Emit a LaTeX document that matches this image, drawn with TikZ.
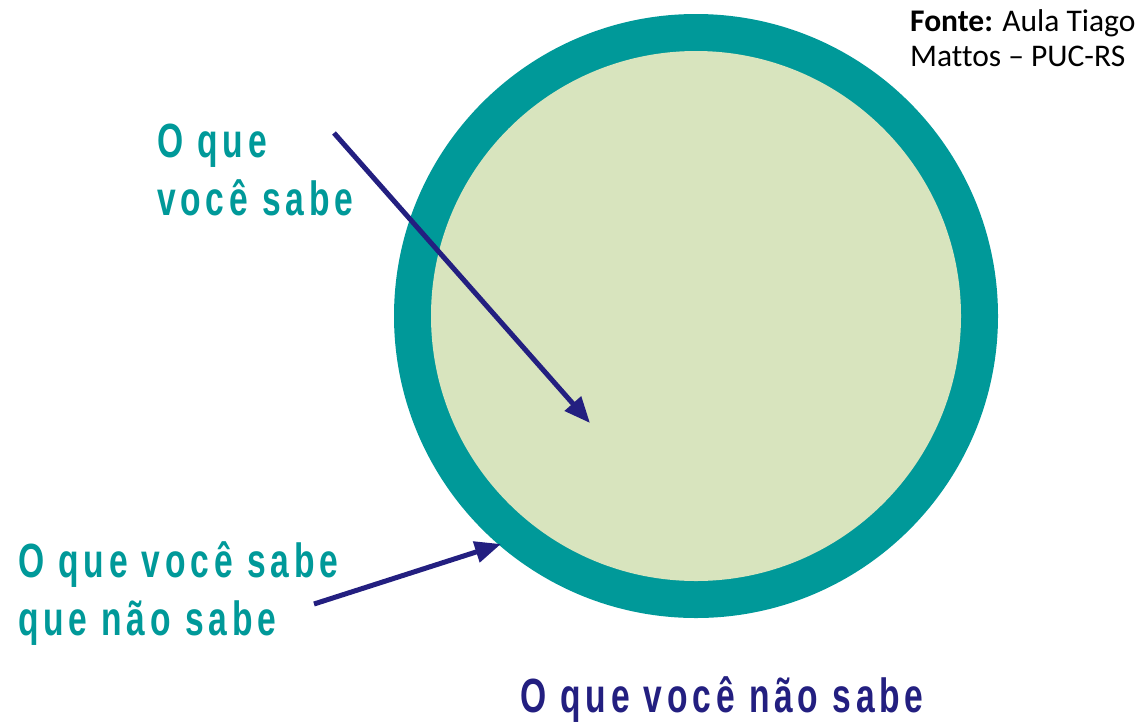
\documentclass[tikz,border=0pt]{standalone}
\usepackage{fontspec}
\setmainfont[Ligatures=NoCommon]{Carlito}
\newfontfamily\headfont[FakeStretch=0.7,LetterSpace=10,WordSpace=1.0]{Liberation Sans Bold}
\usetikzlibrary{arrows.meta}
\definecolor{ringteal}{RGB}{0,153,153}
\definecolor{innergreen}{RGB}{216,228,190}
\definecolor{navyarrow}{RGB}{35,31,128}
\tikzset{
  headlabel/.style={inner sep=0pt, anchor=base west, font=\headfont\fontsize{48}{58}\selectfont},
  tealtext/.style={headlabel, text=ringteal},
  navytext/.style={headlabel, text=navyarrow},
  pointer/.style={draw=navyarrow, line width=5pt, -{Triangle[length=26pt,width=21pt]}},
  sourcetext/.style={inner sep=0pt, anchor=base west, font=\fontsize{31.5}{36}\selectfont, text=black}
}
\begin{document}
\begin{tikzpicture}[x=1pt,y=-1pt]
\useasboundingbox (0,0) rectangle (1143,721);
\fill[ringteal] (696,316) circle[radius=302];
\fill[innergreen] (696,316) circle[radius=265];
\node[tealtext] (know1) at (157,157) {O que};
\node[tealtext] (know2) at (157,215) {você sabe};
\node[tealtext] (kdk1) at (18,577) {O que você sabe};
\node[tealtext] (kdk2) at (18,635) {que não sabe};
\node[navytext] (dk) at (520,712) {O que você não sabe};
\node[sourcetext] (src1) at (910,31) {\textbf{Fonte:} Aula Tiago};
\node[sourcetext] (src2) at (910,66) {Mattos – PUC-RS};
\coordinate (p1s) at (334,133);
\coordinate (p1e) at (590,423);
\coordinate (p2s) at (314,604);
\coordinate (p2e) at (501,544);
\draw[pointer] (p1s) -- (p1e);
\draw[pointer] (p2s) -- (p2e);
\end{tikzpicture}
\end{document}
